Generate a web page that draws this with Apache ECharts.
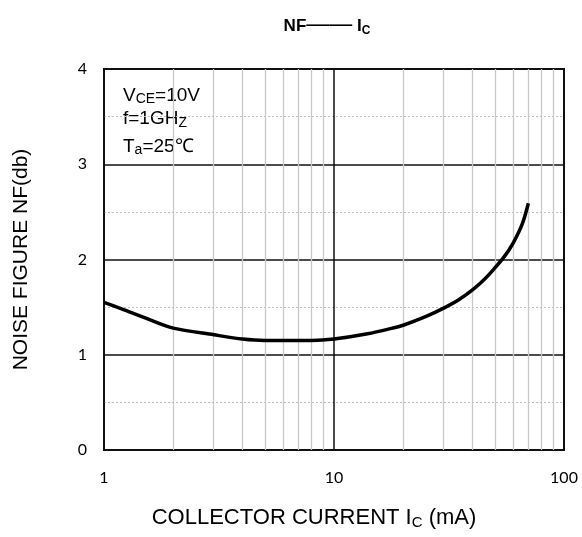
<!DOCTYPE html>
<html><head><meta charset="utf-8">
<script src="https://cdn.jsdelivr.net/npm/echarts@6/dist/echarts.min.js"></script>
<style>html,body{margin:0;padding:0;background:#fff}#c{width:582px;height:537px}</style>
</head><body><div id="c"></div>
<script>
const currentIc = [1, 1.2, 1.5, 2, 3, 4, 5, 6, 7, 8, 10, 14, 18, 20, 25, 30, 35, 40, 45, 50, 55, 60, 66, 70];
const noiseFigure = [1.55, 1.48, 1.39, 1.28, 1.21, 1.165, 1.15, 1.15, 1.15, 1.15, 1.165, 1.22, 1.28, 1.31, 1.40, 1.49, 1.58, 1.68, 1.79, 1.91, 2.03, 2.17, 2.38, 2.59];
const minorGridX = [2, 3, 4, 5, 6, 7, 8, 9, 20, 30, 40, 50, 60, 70, 80, 90];
const yTicks = [0, 1, 2, 3, 4];
const xTicks = [1, 10, 100];

const chart = echarts.init(document.getElementById('c'));
const font = 'Liberation Sans, Arial, sans-serif';
const tickFont = 'Lato, sans-serif';
chart.setOption({
  animation: false,
  title: {
    text: '{b|NF}{d|——}{b| I}{s|C}',
    left: 322, top: 8, textAlign: 'center',
    textStyle: { rich: {
      b: { fontFamily: font, fontWeight: 'bold', fontSize: 17, color: '#000' },
      d: { fontFamily: font, fontWeight: 'normal', fontSize: 23, color: '#000', padding: [0, 0, 3, 0] },
      s: { fontFamily: font, fontWeight: 'bold', fontSize: 12, color: '#000', padding: [9, 0, 0, 0] }
    } }
  },
  grid: { left: 104, right: 18, top: 69, bottom: 87, show: true, borderColor: '#111', borderWidth: 2, backgroundColor: 'transparent' },
  xAxis: {
    type: 'log', logBase: 10, min: xTicks[0], max: xTicks[xTicks.length - 1],
    name: '{t|COLLECTOR CURRENT I}{s|C}{t| (mA)}', nameLocation: 'middle', nameGap: 55,
    nameTextStyle: { padding: [0, 40, 0, 0], rich: {
      t: { fontFamily: font, fontSize: 22, color: '#000' },
      s: { fontFamily: font, fontSize: 15, color: '#000', padding: [10, 0, 0, 0] }
    } },
    axisLine: { show: false }, axisTick: { show: false },
    axisLabel: { fontFamily: tickFont, fontSize: 16, color: '#000', margin: 20 },
    splitLine: { show: true, lineStyle: { color: '#111', width: 1.5 } }
  },
  yAxis: {
    type: 'value', min: yTicks[0], max: yTicks[yTicks.length - 1], interval: 1,
    name: 'NOISE FIGURE NF(db)', nameLocation: 'middle', nameGap: 72,
    nameTextStyle: { fontFamily: font, fontSize: 21, color: '#000' },
    axisLine: { show: false }, axisTick: { show: false },
    axisLabel: { fontFamily: tickFont, fontSize: 16, color: '#000', margin: 17 },
    splitLine: { show: true, lineStyle: { color: '#111', width: 1.5 } },
    minorTick: { show: false, splitNumber: 2 },
    minorSplitLine: { show: true, lineStyle: { color: '#bbb', width: 1, type: [2, 2] } }
  },
  series: [
    {
      type: 'line', data: [], z: 1, silent: true,
      markLine: {
        silent: true, symbol: 'none', label: { show: false },
        lineStyle: { color: '#c8c8c8', width: 1.3, type: 'solid' },
        data: minorGridX.map(v => ({ xAxis: v }))
      }
    },
    {
      type: 'line', z: 5, smooth: 0.3, symbol: 'none',
      lineStyle: { color: '#000', width: 3.5 },
      data: currentIc.map((x, i) => [x, noiseFigure[i]])
    }
  ],
  graphic: [
    { type: 'text', left: 123, top: 86, style: { text: '{t|V}{s|CE}{t|=10V}', rich: {
      t: { fontFamily: font, fontSize: 19, fill: '#000' }, s: { fontFamily: font, fontSize: 14, fill: '#000', padding: [8, 0, 0, 0] } } } },
    { type: 'text', left: 123, top: 109, style: { text: '{t|f=1GH}{s|Z}', rich: {
      t: { fontFamily: font, fontSize: 19, fill: '#000' }, s: { fontFamily: font, fontSize: 14, fill: '#000', padding: [9, 0, 0, 0] } } } },
    { type: 'text', left: 123, top: 137, style: { text: '{t|T}{s|a}{t|=25℃}', rich: {
      t: { fontFamily: font, fontSize: 19, fill: '#000' }, s: { fontFamily: font, fontSize: 14, fill: '#000', padding: [8, 0, 0, 0] } } } }
  ]
});
</script></body></html>
